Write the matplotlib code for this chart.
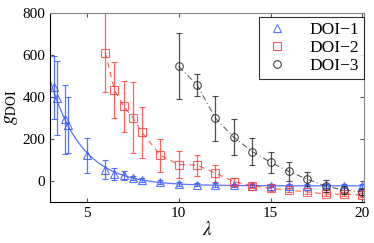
import matplotlib

matplotlib.use("Agg")
import matplotlib.pyplot as plt  # noqa: E402
from matplotlib.lines import Line2D  # noqa: E402
import numpy as np  # noqa: E402

plt.rcParams["font.family"] = ["Liberation Serif", "DejaVu Serif"]
plt.rcParams["mathtext.fontset"] = "stix"

# DOI-1: blue triangles, fitted with an exponential decay
lam1 = [3.2, 3.4, 3.8, 4.0, 5, 6, 6.5, 7, 7.5, 8, 9, 10, 11, 12, 13, 14, 15, 16, 17, 18, 19, 20]
g1 = [447, 395, 294, 268, 122, 54, 33, 26, 13, 5, -5, -15, -18, -20, -21, -22, -23, -24, -24, -24, -24, -24]
err1 = [150, 175, 165, 133, 82, 45, 30, 20, 10, 8, 8, 8, 8, 8, 8, 8, 8, 8, 8, 8, 8, 10]

# DOI-2: red squares
lam2 = [6, 6.5, 7, 7.5, 8, 9, 10, 11, 12, 13, 14, 15, 16, 17, 18, 19, 20]
g2 = [611, 433, 355, 301, 231, 122, 78, 75, 37, -3, -23, -36, -44, -52, -63, -63, -68]
err2 = [190, 135, 120, 170, 120, 78, 65, 50, 40, 15, 12, 10, 10, 10, 10, 10, 10]

# DOI-3: black circles
lam3 = [10, 11, 12, 13, 14, 15, 16, 17, 18, 19, 20]
g3 = [545, 457, 298, 208, 140, 89, 45, 8, -24, -44, -52]
err3 = [157, 53, 107, 85, 62, 50, 45, 33, 30, 20, 15]

LABELS = ["DOI\u22121", "DOI\u22122", "DOI\u22123"]
BLUE = "#3d5cff"
RED = "#ff3030"
BLACK = "#222222"


def fit_decay(x, y, w):
    """Weighted least-squares fit of y = a*exp(-b*x) + d, grid search on b."""
    x = np.asarray(x, float)
    y = np.asarray(y, float)
    w = 1.0 / np.asarray(w, float)
    best = None
    for b in np.linspace(0.2, 1.5, 261):
        A = np.column_stack([np.exp(-b * x), np.ones_like(x)])
        coef, *_ = np.linalg.lstsq(A * w[:, None], y * w, rcond=None)
        r = np.sum(((A @ coef - y) * w) ** 2)
        if best is None or r < best[0]:
            best = (r, coef[0], b, coef[1])
    _, a, b, d = best
    return lambda t: a * np.exp(-b * t) + d


fig, ax = plt.subplots(figsize=(3.74, 2.43), dpi=100)
fig.subplots_adjust(left=0.134, right=0.974, bottom=0.169, top=0.947)

curve = fit_decay(lam1, g1, err1)
xs = np.linspace(3, 20, 300)
ax.plot(xs, curve(xs), color=BLUE, lw=0.9, alpha=0.85)
ax.plot(lam2, g2, color=RED, lw=0.8, ls=(0, (5, 4)), alpha=0.8)
ax.plot(lam3, g3, color=BLACK, lw=0.7, ls=(0, (6, 3, 1, 3)), alpha=0.8)

ebkw = dict(capsize=2.5, elinewidth=0.9, capthick=0.9, markersize=5.5,
            markerfacecolor="none", markeredgewidth=0.8, ls="none")
ax.errorbar(lam1, g1, yerr=err1, marker="^", color=BLUE, alpha=0.85, **ebkw)
ax.errorbar(lam2, g2, yerr=err2, marker="s", color=RED, alpha=0.75, **ebkw)
ax.errorbar(lam3, g3, yerr=err3, marker="o", color=BLACK, alpha=0.8, **ebkw)

ax.set_xlim(3, 20.1)
ax.set_ylim(-100, 800)
ax.set_xticks([5, 10, 15, 20])
ax.set_yticks([0, 200, 400, 600, 800])
ax.tick_params(direction="in", top=True, right=True, labelsize=11, length=3,
               color="#555555")
for side in ("top", "right"):
    ax.spines[side].set_color("#888888")

ax.set_xlabel(r"$\lambda$", fontsize=14, labelpad=1)
ax.set_ylabel(r"$g_{\rm DOI}$", fontsize=14, labelpad=2)

handles = [
    Line2D([], [], ls="none", marker=m, color=c, markerfacecolor="none",
           markersize=5.5, markeredgewidth=0.8, alpha=0.85)
    for m, c in zip(["^", "s", "o"], [BLUE, RED, BLACK])
]
leg = ax.legend(handles, LABELS, loc="upper right", bbox_to_anchor=(1.0, 0.98),
                borderaxespad=0, fancybox=False, fontsize=12.5, handlelength=1.5,
                handletextpad=1.1, labelspacing=0.1, borderpad=0.3)
leg.get_frame().set_edgecolor("black")
leg.get_frame().set_linewidth(0.8)

fig.savefig("out.png", dpi=100)
